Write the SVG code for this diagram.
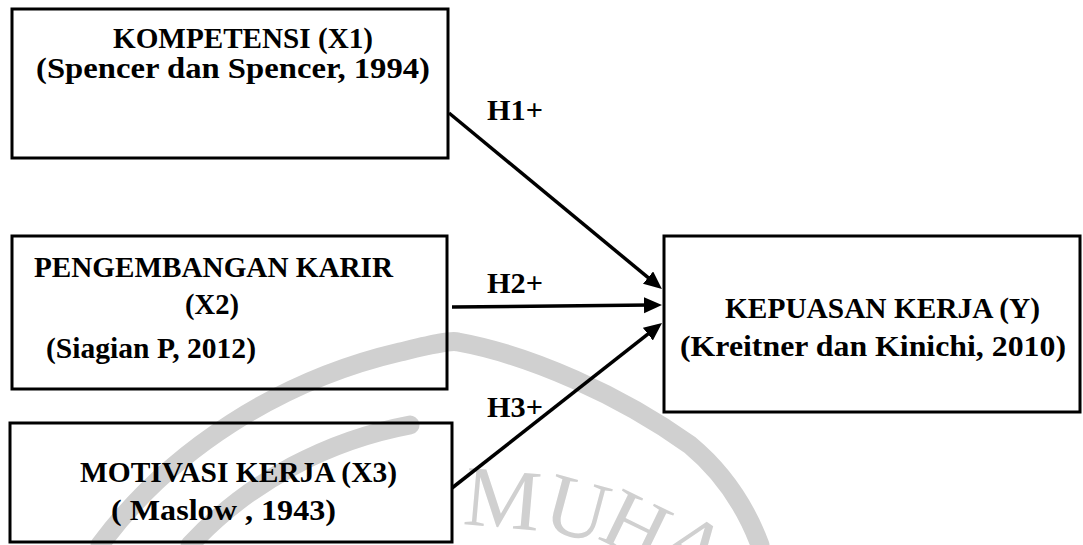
<svg xmlns="http://www.w3.org/2000/svg" width="1083" height="545" viewBox="0 0 1083 545">
  <style>
    .box { fill: none; stroke: #000; stroke-width: 3; }
    .t { font-family: "Liberation Serif", "Times New Roman", serif; font-weight: bold; font-size: 30px; fill: #000; }
    .lbl { font-family: "Liberation Serif", "Times New Roman", serif; font-weight: bold; font-size: 30px; fill: #000; }
    .conn { stroke: #000; stroke-width: 3.5; fill: none; }
    .wm { fill: none; stroke: #d0d0d0; stroke-width: 19; stroke-linecap: round; }
    .wmt { font-family: "Liberation Serif", "Times New Roman", serif; font-size: 86px; fill: #d0d0d0; }
  </style>
  <defs>
    <marker id="arrow" markerUnits="userSpaceOnUse" markerWidth="20" markerHeight="18" refX="6" refY="8" orient="auto">
      <path d="M0,0 L18,8 L0,16 z" fill="#000"/>
    </marker>
  </defs>
  <rect width="1083" height="545" fill="#fff"/>

  <g id="watermark">
    <path class="wm" d="M 100,545 C 170,450 280,380 400,352 C 430,345 450,340 458,342 C 530,355 620,395 690,445 C 720,470 745,505 760,545"/>
    <path class="wm" d="M 190,545 C 250,480 330,440 410,425"/>
    <text class="wmt" transform="translate(462,524) rotate(5)">M</text>
    <text class="wmt" transform="translate(540,528) rotate(15)">U</text>
    <text class="wmt" transform="translate(596,538) rotate(26)">H</text>
    <text class="wmt" transform="translate(652,552) rotate(36)">A</text>
  </g>

  <g id="node-x1">
    <rect class="box" x="12" y="9" width="436" height="149"/>
    <text class="t" x="113" y="48" textLength="260" lengthAdjust="spacingAndGlyphs">KOMPETENSI (X1)</text>
    <text class="t" x="36" y="78" textLength="394" lengthAdjust="spacingAndGlyphs">(Spencer dan Spencer, 1994)</text>
  </g>

  <g id="node-x2">
    <rect class="box" x="12" y="236" width="435" height="153"/>
    <text class="t" x="34" y="277" textLength="359" lengthAdjust="spacingAndGlyphs">PENGEMBANGAN KARIR</text>
    <text class="t" x="185" y="314" textLength="54" lengthAdjust="spacingAndGlyphs">(X2)</text>
    <text class="t" x="46" y="358" textLength="210" lengthAdjust="spacingAndGlyphs">(Siagian P, 2012)</text>
  </g>

  <g id="node-x3">
    <rect class="box" x="10" y="423" width="442" height="119"/>
    <text class="t" x="80" y="482" textLength="317" lengthAdjust="spacingAndGlyphs">MOTIVASI KERJA (X3)</text>
    <text class="t" x="111" y="520" textLength="225" lengthAdjust="spacingAndGlyphs">( Maslow , 1943)</text>
  </g>

  <g id="node-y">
    <rect class="box" x="664" y="236" width="416" height="176"/>
    <text class="t" x="725" y="318" textLength="315" lengthAdjust="spacingAndGlyphs">KEPUASAN KERJA (Y)</text>
    <text class="t" x="680" y="356" textLength="386" lengthAdjust="spacingAndGlyphs">(Kreitner dan Kinichi, 2010)</text>
  </g>

  <g id="connectors">
    <line class="conn" x1="449" y1="113" x2="652.7" y2="281.4" marker-end="url(#arrow)"/>
    <line class="conn" x1="452" y1="307" x2="650" y2="305.1" stroke-width="4.5" marker-end="url(#arrow)"/>
    <line class="conn" x1="452" y1="488" x2="652.6" y2="330.4" marker-end="url(#arrow)"/>
    <text class="lbl" x="487" y="120" textLength="56" lengthAdjust="spacingAndGlyphs">H1+</text>
    <text class="lbl" x="487" y="293" textLength="56" lengthAdjust="spacingAndGlyphs">H2+</text>
    <text class="lbl" x="487" y="417" textLength="56" lengthAdjust="spacingAndGlyphs">H3+</text>
  </g>
</svg>
